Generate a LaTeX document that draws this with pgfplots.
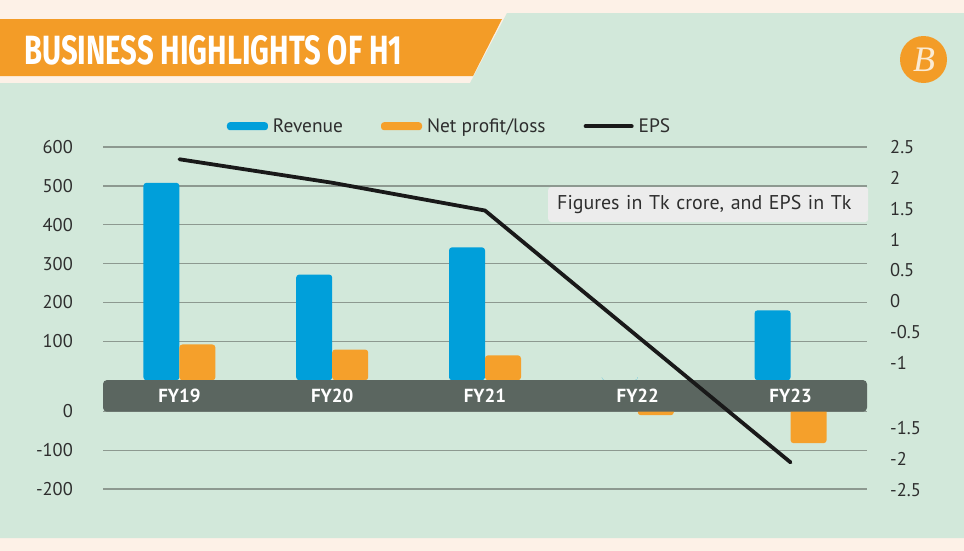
\documentclass[border=0pt]{standalone}
\usepackage{fontspec}
\setmainfont{PT Sans}
\newfontfamily\titlefont{Fira Sans}
\newfontfamily\logofont{Liberation Serif}
\usepackage{graphicx}
\usepackage{pgfplots}
\pgfplotsset{compat=1.18}
\usepackage{pgfplotstable}

\definecolor{beige}{HTML}{FDF1E7}
\definecolor{panel}{HTML}{D2E8DA}
\definecolor{banner}{HTML}{F39C27}
\definecolor{revblue}{HTML}{009FDA}
\definecolor{netorange}{HTML}{F5A02B}
\definecolor{band}{HTML}{5B6660}
\definecolor{gridc}{HTML}{8D9990}
\definecolor{txt}{HTML}{2E2E2E}
\definecolor{boxc}{HTML}{ECECEC}
\definecolor{cream}{HTML}{FBEBD3}

\pgfplotstableread{
x rev net eps
0 508 92 2.30
1 272 79 1.92
2 342 64 1.47
3 0 -10 -0.57
4 180 -82 -2.06
}\datatable

\begin{document}
\begin{tikzpicture}
\path[use as bounding box] (0,0) rectangle (964bp,-551bp);
\fill[beige] (0,0) rectangle (964bp,-551bp);
\fill[panel] (0,-83bp) -- (470bp,-83bp) -- (507bp,-13bp) -- (964bp,-13bp) -- (964bp,-538bp) -- (0,-538bp) -- cycle;
\fill[banner] (0,-19bp) -- (502bp,-19bp) -- (473bp,-76bp) -- (0,-76bp) -- cycle;
\node[anchor=west, text=white, inner sep=0pt] at (24bp,-50.5bp) {\resizebox{378bp}{29bp}{\titlefont\bfseries BUSINESS HIGHLIGHTS OF H1}};
\fill[banner] (923.5bp,-59.5bp) circle (23.5bp);
\node[text=cream, inner sep=0pt] at (924bp,-60bp) {\logofont\itshape\fontsize{36}{36}\selectfont B};

\begin{axis}[
  at={(103bp,-489.8bp)}, anchor=south west,
  scale only axis, width=764bp, height=342.7bp,
  xmin=-0.5, xmax=4.5, ymin=-282, ymax=600,
  ybar=0pt, bar width=36bp,
  axis line style={draw=none},
  major tick length=0pt,
  ymajorgrids, grid style={color=gridc, line width=1.3bp},
  ytick={600,500,400,300,200,100,-80,-180,-280},
  yticklabels={600,500,400,300,200,100,0,-100,-200},
  ytick pos=left,
  yticklabel style={anchor=east, inner sep=0pt, xshift=-30bp, text=txt, font=\fontsize{18.5}{20}\selectfont},
  xtick=\empty,
  /pgf/number format/assume math mode=true,
  legend style={at={(0.162,1.061)}, anchor=west, draw=none, fill=none, inner sep=0pt,
    legend columns=-1, font=\fontsize{19.5}{22}\selectfont, text=txt,
    nodes={inner xsep=0pt},
    /tikz/every odd column/.append style={column sep=5bp},
    /tikz/every even column/.append style={column sep=38bp}},
]
\addplot[fill=revblue, draw=none, rounded corners=3bp, legend image code/.code={\fill[revblue] (0bp,-4bp) rectangle (41bp,4bp);}]
  table[x=x, y=rev] {\datatable};
\addlegendentry{Revenue}
\addplot[fill=netorange, draw=none, rounded corners=3bp, legend image code/.code={\fill[netorange] (0bp,-4bp) rectangle (41bp,4bp);}]
  table[x=x, y expr={ifthenelse(\thisrow{net}<0, \thisrow{net}-80, \thisrow{net})}] {\datatable};
\addlegendentry{Net profit/loss}
\addlegendimage{legend image code/.code={\draw[line width=4bp, black!90, line cap=round] (0bp,0bp) -- (46bp,0bp);}}
\addlegendentry{EPS}
\fill[band, rounded corners=4bp] (axis cs:-0.5,0.5) rectangle (axis cs:4.5,-81);
\end{axis}

\begin{axis}[
  at={(103bp,-489.8bp)}, anchor=south west,
  scale only axis, width=764bp, height=342.7bp,
  xmin=-0.5, xmax=4.5, ymin=-282, ymax=600,
  axis line style={draw=none},
  major tick length=0pt,
  ytick pos=right,
  ytick={600,521,441.5,362,282.5,203,123.5,44,-122.5,-202,-281.5},
  yticklabels={2.5,2,1.5,1,0.5,0,-0.5,-1,-1.5,-2,-2.5},
  yticklabel style={anchor=west, inner sep=0pt, xshift=23bp, text=txt, font=\fontsize{18.5}{20}\selectfont},
  xtick={0,1,2,3,4},
  xticklabels={FY19,FY20,FY21,FY22,FY23},
  xtick pos=bottom,
  xticklabel style={anchor=center, inner sep=0pt, yshift=94.2bp, text=white, font=\fontsize{19}{20}\selectfont\bfseries},
  /pgf/number format/assume math mode=true,
]
\addplot[black!90, line width=3.8bp, line cap=round, line join=round, mark=none]
  table[x=x, y expr={ifthenelse(\thisrow{eps}<-1.2, 203+159*\thisrow{eps}-87, 203+159*\thisrow{eps})}] {\datatable};
\end{axis}

\node[fill=boxc, rounded corners=3bp, anchor=west, minimum height=35bp, inner xsep=9bp, text width=302bp, align=left, text=txt, font=\fontsize{20}{22}\selectfont] at (548bp,-204.5bp) {Figures in Tk crore, and EPS in Tk};
\end{tikzpicture}
\end{document}
